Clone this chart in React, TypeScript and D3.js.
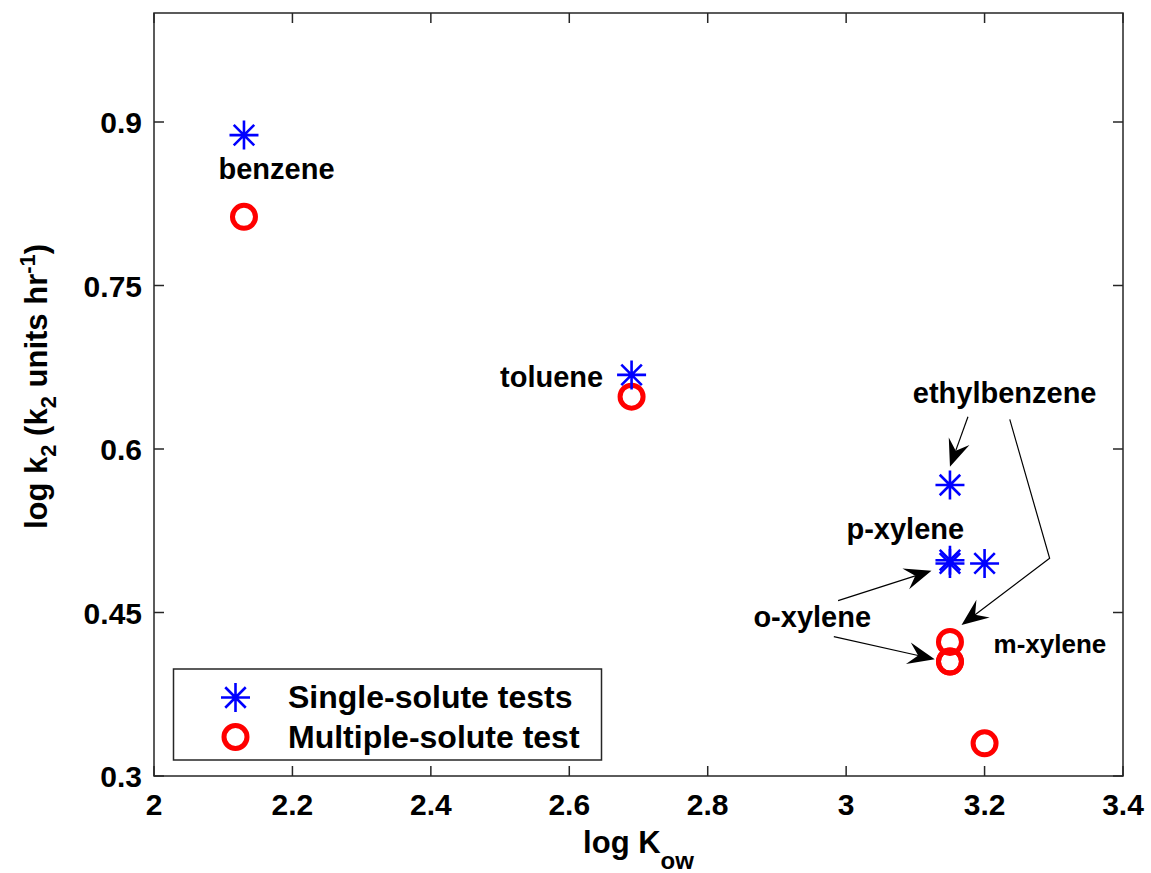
import React, { useEffect, useRef } from "react";
import * as d3 from "d3";

// ---- data ----
const compounds = ["benzene", "toluene", "ethylbenzene", "p-xylene", "o-xylene", "m-xylene"];
const logKow = [2.13, 2.69, 3.15, 3.15, 3.15, 3.2];
const singleLogK2 = [0.888, 0.668, 0.567, 0.498, 0.495, 0.495];
const multipleLogK2 = [0.813, 0.648, 0.423, 0.405, 0.405, 0.33];

const xTicks = [2, 2.2, 2.4, 2.6, 2.8, 3, 3.2, 3.4];
const yTicks = [0.3, 0.45, 0.6, 0.75, 0.9];
const xTickLabels = ["2", "2.2", "2.4", "2.6", "2.8", "3", "3.2", "3.4"];
const yTickLabels = ["0.3", "0.45", "0.6", "0.75", "0.9"];

const legendLabels = ["Single-solute tests", "Multiple-solute test"];

// annotation labels (data coordinates)
const labelTexts = ["benzene", "toluene", "ethylbenzene", "p-xylene", "o-xylene", "m-xylene"];
const labelX = [2.177, 2.649, 3.229, 3.0855, 2.951, 3.213];
const labelY = [0.848, 0.657, 0.642, 0.517, 0.4365, 0.413];
const labelAnchor = ["middle", "end", "middle", "middle", "middle", "start"];
const labelSize = [29, 29, 29, 29, 29, 26];

// arrows (polylines in data coordinates, last point is the tip)
const arrows: [number, number][][] = [
  [[3.176, 0.6296], [3.15, 0.5838]],
  [[3.2364, 0.6272], [3.294, 0.4997], [3.1667, 0.4386]],
  [[2.9884, 0.4609], [3.1233, 0.4884]],
  [[2.9822, 0.4279], [3.128, 0.4071]],
];

const W = 1151;
const H = 873;
const M = { left: 154, right: 1123, top: 13, bottom: 776 };
const FONT = "'Liberation Sans', Arial, Helvetica, sans-serif";

export default function App() {
  const ref = useRef<SVGSVGElement | null>(null);

  useEffect(() => {
    const svg = d3.select(ref.current);
    svg.selectAll("*").remove();

    const x = d3.scaleLinear().domain([2, 3.4]).range([M.left, M.right]);
    const y = d3.scaleLinear().domain([0.3, 1.0]).range([M.bottom, M.top]);
    const axisColor = "#262626";

    svg.append("rect").attr("width", W).attr("height", H).attr("fill", "white");

    // frame
    svg
      .append("rect")
      .attr("x", M.left)
      .attr("y", M.top)
      .attr("width", M.right - M.left)
      .attr("height", M.bottom - M.top)
      .attr("fill", "none")
      .attr("stroke", axisColor)
      .attr("stroke-width", 1.5);

    const tl = 10;
    // x ticks (bottom and top, inward)
    xTicks.forEach((t, i) => {
      const px = x(t);
      svg.append("line").attr("x1", px).attr("x2", px).attr("y1", M.bottom).attr("y2", M.bottom - tl)
        .attr("stroke", axisColor).attr("stroke-width", 1.5);
      svg.append("line").attr("x1", px).attr("x2", px).attr("y1", M.top).attr("y2", M.top + tl)
        .attr("stroke", axisColor).attr("stroke-width", 1.5);
      svg.append("text").attr("x", px).attr("y", 815).attr("text-anchor", "middle")
        .attr("font-family", FONT).attr("font-weight", "bold").attr("font-size", 30)
        .attr("fill", "black").text(xTickLabels[i]);
    });
    // y ticks
    yTicks.forEach((t, i) => {
      const py = y(t);
      svg.append("line").attr("x1", M.left).attr("x2", M.left + tl).attr("y1", py).attr("y2", py)
        .attr("stroke", axisColor).attr("stroke-width", 1.5);
      svg.append("line").attr("x1", M.right).attr("x2", M.right - tl).attr("y1", py).attr("y2", py)
        .attr("stroke", axisColor).attr("stroke-width", 1.5);
      svg.append("text").attr("x", 142).attr("y", py + 11).attr("text-anchor", "end")
        .attr("font-family", FONT).attr("font-weight", "bold").attr("font-size", 30)
        .attr("fill", "black").text(yTickLabels[i]);
    });

    // x label
    const xl = svg.append("text").attr("x", (M.left + M.right) / 2).attr("y", 853)
      .attr("text-anchor", "middle").attr("font-family", FONT).attr("font-weight", "bold")
      .attr("font-size", 31).attr("fill", "black");
    xl.append("tspan").text("log K");
    xl.append("tspan").attr("dy", 16).attr("font-size", 24).text("ow");

    // y label
    const yl = svg.append("text")
      .attr("transform", `translate(47, ${(M.top + M.bottom) / 2 - 8}) rotate(-90)`)
      .attr("text-anchor", "middle").attr("font-family", FONT).attr("font-weight", "bold")
      .attr("font-size", 31).attr("fill", "black");
    yl.append("tspan").text("log k");
    yl.append("tspan").attr("dy", 9).attr("font-size", 22).text("2");
    yl.append("tspan").attr("dy", -9).text(" (k");
    yl.append("tspan").attr("dy", 9).attr("font-size", 22).text("2");
    yl.append("tspan").attr("dy", -9).text(" units hr");
    yl.append("tspan").attr("dy", -12).attr("font-size", 22).text("-1");
    yl.append("tspan").attr("dy", 12).text(")");

    // markers
    const asterisk = (g: any, cx: number, cy: number, r: number) => {
      const d = r * Math.SQRT1_2;
      const p = `M${cx - r},${cy}L${cx + r},${cy}M${cx},${cy - r}L${cx},${cy + r}` +
        `M${cx - d},${cy - d}L${cx + d},${cy + d}M${cx - d},${cy + d}L${cx + d},${cy - d}`;
      g.append("path").attr("d", p).attr("stroke", "#0000ff").attr("stroke-width", 2.6).attr("fill", "none");
    };
    const ring = (g: any, cx: number, cy: number) => {
      g.append("circle").attr("cx", cx).attr("cy", cy).attr("r", 11.5)
        .attr("fill", "none").attr("stroke", "#ff0000").attr("stroke-width", 5);
    };

    const gm = svg.append("g");
    compounds.forEach((_, i) => ring(gm, x(logKow[i]), y(multipleLogK2[i])));
    compounds.forEach((_, i) => asterisk(gm, x(logKow[i]), y(singleLogK2[i]), 14.5));

    // annotation labels
    labelTexts.forEach((t, i) => {
      svg.append("text").attr("x", x(labelX[i])).attr("y", y(labelY[i]))
        .attr("text-anchor", labelAnchor[i]).attr("font-family", FONT).attr("font-weight", "bold")
        .attr("font-size", labelSize[i]).attr("fill", "black").text(t);
    });

    // arrows
    arrows.forEach((pts) => {
      const pp = pts.map(([a, b]) => [x(a), y(b)] as [number, number]);
      const n = pp.length;
      const [tx, ty] = pp[n - 1];
      const [sx, sy] = pp[n - 2];
      const len = Math.hypot(tx - sx, ty - sy);
      const ux = (tx - sx) / len, uy = (ty - sy) / len;
      const nx = -uy, ny = ux;
      const L = 27, Wd = 11, notch = 17;
      const bx = tx - ux * L, by = ty - uy * L;
      const kx = tx - ux * notch, ky = ty - uy * notch;
      const linePts = pp.slice(0, n - 1).concat([[kx, ky]]);
      svg.append("path").attr("d", d3.line()(linePts as any) as string)
        .attr("stroke", "black").attr("stroke-width", 1.2).attr("fill", "none");
      svg.append("path")
        .attr("d", `M${tx},${ty}L${bx + nx * Wd},${by + ny * Wd}L${kx},${ky}L${bx - nx * Wd},${by - ny * Wd}Z`)
        .attr("fill", "black");
    });

    // legend
    const lg = svg.append("g");
    lg.append("rect").attr("x", 173.5).attr("y", 669).attr("width", 428).attr("height", 91)
      .attr("fill", "white").attr("stroke", axisColor).attr("stroke-width", 1.5);
    asterisk(lg, 235.5, 697.5, 14.5);
    ring(lg, 235.5, 737);
    legendLabels.forEach((t, i) => {
      lg.append("text").attr("x", 288).attr("y", 708 + i * 40).attr("font-family", FONT)
        .attr("font-weight", "bold").attr("font-size", 32).attr("fill", "black").text(t);
    });
  }, []);

  return (
    <svg
      ref={ref}
      width={W}
      height={H}
      style={{ position: "absolute", left: 0, top: 0, display: "block" }}
    />
  );
}
